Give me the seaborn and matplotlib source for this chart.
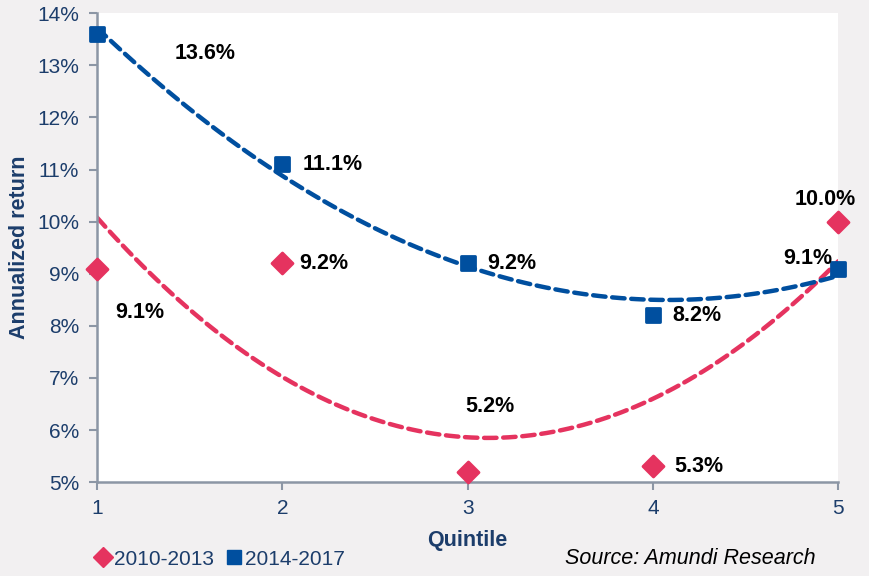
import matplotlib
matplotlib.use("Agg")
import matplotlib.pyplot as plt
from matplotlib.lines import Line2D
import seaborn as sns

# data (annualized return, %)
quintile = [1, 2, 3, 4, 5]
ret_2010_2013 = [9.1, 9.2, 5.2, 5.3, 10.0]
ret_2014_2017 = [13.6, 11.1, 9.2, 8.2, 9.1]
series_names = ["2010-2013", "2014-2017"]
y_ticks = [5, 6, 7, 8, 9, 10, 11, 12, 13, 14]

pink = "#e5335f"
blue = "#004f9f"
navy = "#1c3d6b"
bg = "#f2f0f1"

sns.set_theme(style="white")
plt.rcParams['font.family'] = ['Liberation Sans', 'DejaVu Sans']

fig = plt.figure(figsize=(8.7, 5.76), dpi=100, facecolor=bg)
ax = fig.add_axes([0.1115, 0.163, 0.852, 0.814])
ax.set_facecolor("white")

# 2nd order trend lines (like Excel polynomial trendline)
dash = dict(lw=3.2, linestyle=(0, (2.8, 1.5)), dash_capstyle="round")
sns.regplot(x=quintile, y=ret_2010_2013, order=2, ci=None, scatter=False,
            line_kws=dict(color=pink, **dash), ax=ax)
sns.regplot(x=quintile, y=ret_2014_2017, order=2, ci=None, scatter=False,
            line_kws=dict(color=blue, **dash), ax=ax)

# points
sns.scatterplot(x=quintile, y=ret_2010_2013, marker="D", s=115, color=pink,
                edgecolor=pink, linewidth=2, ax=ax, clip_on=False, zorder=5)
sns.scatterplot(x=quintile, y=ret_2014_2017, marker="s", s=115, color=blue,
                edgecolor=blue, linewidth=2, ax=ax, clip_on=False, zorder=5)

# value labels (offsets in points)
off_pink = [(31, -32), (30, 0), (16, 47), (33, 0), (-9, 16)]
off_blue = [(78, -14), (36, 0), (32, 0), (32, 0), (-22, 7)]
for xs, ys, offs in [(quintile, ret_2010_2013, off_pink), (quintile, ret_2014_2017, off_blue)]:
    for x, y, o in zip(xs, ys, offs):
        ax.annotate(f"{y:.1f}%", (x, y), xytext=o, textcoords="offset points",
                    ha="center", va="center", fontsize=15.5, fontweight="bold",
                    color="black", zorder=6)

ax.set_xlim(1, 5)
ax.set_ylim(5, 14)
ax.set_xticks(quintile)
ax.set_yticks(y_ticks)
ax.set_yticklabels([f"{t}%" for t in y_ticks])
ax.tick_params(axis="both", colors="#8c96a5", labelcolor=navy, labelsize=15,
               length=6, width=1.5, direction="out", left=True, bottom=True)
ax.tick_params(axis="x", pad=6)
ax.tick_params(axis="y", pad=7)
for side in ["top", "right"]:
    ax.spines[side].set_visible(False)
for side in ["left", "bottom"]:
    ax.spines[side].set_color("#8c96a5")
    ax.spines[side].set_linewidth(1.8)

ax.set_xlabel("Quintile", fontsize=15.5, fontweight="bold", color=navy, labelpad=9)
ax.set_ylabel("Annualized return", fontsize=15.5, fontweight="bold", color=navy, labelpad=5)

handles = [Line2D([], [], marker="D", color=pink, linestyle="none", markersize=10),
           Line2D([], [], marker="s", color=blue, linestyle="none", markersize=10)]
leg = fig.legend(handles, series_names, loc="lower left", bbox_to_anchor=(0.085, -0.02),
                 ncol=2, frameon=False, fontsize=15, handletextpad=0.0,
                 columnspacing=0.5, handlelength=1.0)
for t in leg.get_texts():
    t.set_color(navy)

fig.text(0.937, 0.03, "Source: Amundi Research", ha="right", va="center",
         fontsize=15.5, style="italic", color="black")

fig.savefig("out.png", dpi=100, facecolor=bg)
